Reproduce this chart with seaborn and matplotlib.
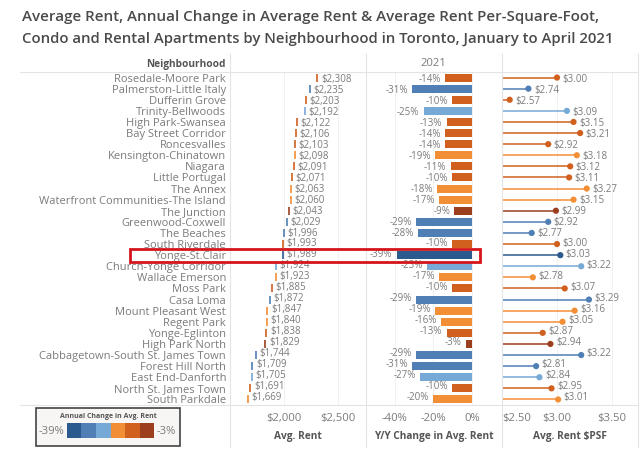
import matplotlib
matplotlib.use("Agg")
import matplotlib.pyplot as plt
from matplotlib.colors import ListedColormap
from matplotlib.lines import Line2D
from matplotlib.patches import Rectangle
import numpy as np
import pandas as pd
import seaborn as sns

neighbourhoods = ["Rosedale-Moore Park", "Palmerston-Little Italy", "Dufferin Grove", "Trinity-Bellwoods",
                  "High Park-Swansea", "Bay Street Corridor", "Roncesvalles", "Kensington-Chinatown", "Niagara",
                  "Little Portugal", "The Annex", "Waterfront Communities-The Island", "The Junction",
                  "Greenwood-Coxwell", "The Beaches", "South Riverdale", "Yonge-St.Clair", "Church-Yonge Corridor",
                  "Wallace Emerson", "Moss Park", "Casa Loma", "Mount Pleasant West", "Regent Park", "Yonge-Eglinton",
                  "High Park North", "Cabbagetown-South St. James Town", "Forest Hill North", "East End-Danforth",
                  "North St. James Town", "South Parkdale"]
avg_rent = [2308, 2235, 2203, 2192, 2122, 2106, 2103, 2098, 2091, 2071, 2063, 2060, 2043, 2029, 1996,
            1993, 1989, 1924, 1923, 1885, 1872, 1847, 1840, 1838, 1829, 1744, 1709, 1705, 1691, 1669]
yy_change = [-14, -31, -10, -25, -13, -14, -14, -19, -11, -10, -18, -17, -9, -29, -28,
             -10, -39, -23, -17, -10, -29, -19, -16, -13, -3, -29, -31, -27, -10, -20]
rent_psf = [3.00, 2.74, 2.57, 3.09, 3.15, 3.21, 2.92, 3.18, 3.12, 3.11, 3.27, 3.15, 2.99, 2.92, 2.77,
            3.00, 3.03, 3.22, 2.78, 3.07, 3.29, 3.16, 3.05, 2.87, 2.94, 3.22, 2.81, 2.84, 2.95, 3.01]
band_colors = ["#2b5a8e", "#4f7fb4", "#76a9d6", "#f28f36", "#d1601f", "#9b3f1f"]
band_edges = [-40, -33, -27.5, -21, -15, -9.5, 0]
bands = list(range(len(band_colors)))

W, H = 640, 463
GREY = "#7b7b7b"
FONT = "Open Sans"
sns.set_theme(style="white")
plt.rcParams["font.family"] = [FONT, "DejaVu Sans"]

df = pd.DataFrame({"hood": neighbourhoods, "rent": avg_rent, "change": yy_change, "psf": rent_psf})
df["band"] = pd.cut(df["change"], band_edges, labels=bands).astype(int)
palette = dict(zip(bands, band_colors))
row_colors = [palette[b] for b in df["band"]]

fig = plt.figure(figsize=(W / 100, H / 100), dpi=100, facecolor="white")


def fx(x):
    return x / W


def fy(y):
    return 1 - y / H


def panel(x0, x1, y0=72, y1=405):
    return fig.add_axes([fx(x0), fy(y1), (x1 - x0) / W, (y1 - y0) / H], facecolor="none")


def label_shift(i):
    # the value labels sit on a slightly tighter pitch than the rows
    return (14.5 - i) / 14.5 * -1.1


ax1 = panel(229.5, 366)
ax2 = panel(366, 502)
ax3 = panel(502, 638)

sns.scatterplot(data=df, x="rent", y="hood", hue="band", palette=palette, marker="|", s=34,
                linewidth=1.2, legend=False, ax=ax1)
sns.barplot(data=df, x="change", y="hood", hue="band", palette=palette, dodge=False, width=0.72,
            orient="h", legend=False, saturation=1, linewidth=0, ax=ax2)
ax3.hlines(df["hood"], 2.5, df["psf"], colors=row_colors, linewidth=1.1)
sns.scatterplot(data=df, x="psf", y="hood", hue="band", palette=palette, s=20, linewidth=0,
                legend=False, ax=ax3)

ax1.set_xlim(1498, 2755)
ax2.set_xlim(-54.9, 15.7)
ax3.set_xlim(2.5, 3.736)

for i, v in enumerate(df["rent"]):
    ax1.annotate(f"${v:,}", (v, i), xytext=(2.6, label_shift(i)), textcoords="offset points", va="center",
                 ha="left", fontsize=7.0, color=GREY)
for i, v in enumerate(df["change"]):
    ax2.annotate(f"{v}%", (v, i), xytext=(-3, label_shift(i)), textcoords="offset points", va="center",
                 ha="right", fontsize=7.0, color=GREY)
for i, v in enumerate(df["psf"]):
    ax3.annotate(f"${v:.2f}", (v, i), xytext=(4, label_shift(i)), textcoords="offset points", va="center",
                 ha="left", fontsize=7.0, color=GREY)

ax1.set_xticks([2000, 2500], ["$2,000", "$2,500"])
ax2.set_xticks([-40, -20, 0], ["-40%", "-20%", "0%"])
ax3.set_xticks([2.5, 3.0, 3.5], ["$2.50", "$3.00", "$3.50"])
ax3.get_xticklabels()[0].set_ha("left")

titles = ["Avg. Rent", "Y/Y Change in Avg. Rent", "Avg. Rent $PSF"]
for ax, t in zip((ax1, ax2, ax3), titles):
    ax.set_ylim(29.5, -0.5)
    ax.set_xlabel("")
    ax.set_ylabel("")
    ax.grid(True, axis="x", color="#f1f1f1", linewidth=0.7)
    ax.set_axisbelow(True)
    ax.tick_params(axis="x", length=0, pad=6, labelsize=8.1, labelcolor=GREY)
    ax.tick_params(axis="y", length=0)
    for s in ax.spines.values():
        s.set_visible(False)
    x0, x1 = ax.get_position().x0, ax.get_position().x1
    fig.text((x0 + x1) / 2, fy(437), t, ha="center", va="center", fontsize=7.3, fontweight="bold", color="#555555")

ax1.tick_params(axis="y", pad=2.5, labelsize=8.0, labelcolor=GREY)
ax2.set_yticks([])
ax3.set_yticks([])

# table rules
for x in (229.5, 366, 502, 638):
    fig.add_artist(Line2D([fx(x), fx(x)], [fy(53), fy(447)], color="#e4e4e4", linewidth=0.8))
for y in (72, 405):
    fig.add_artist(Line2D([fx(20), fx(638)], [fy(y), fy(y)], color="#e4e4e4", linewidth=0.8))

# headers and title
fig.text(fx(226), fy(64), "Neighbourhood", ha="right", va="center", fontsize=7.3, fontweight="bold", color="#555555")
fig.text(fx(433), fy(63), "2021", ha="center", va="center", fontsize=8.1, color=GREY)
fig.text(fx(22), fy(17.5), "Average Rent, Annual Change in Average Rent & Average Rent Per-Square-Foot,",
         ha="left", va="center", fontsize=10.9, fontweight="semibold", color="#4a4a4a")
fig.text(fx(22), fy(38.5), "Condo and Rental Apartments by Neighbourhood in Toronto, January to April 2021",
         ha="left", va="center", fontsize=10.7, fontweight="semibold", color="#4a4a4a")

# highlight box
fig.add_artist(Rectangle((fx(129.5), fy(262)), (480 - 129.5) / W, (262 - 248.5) / H, transform=fig.transFigure,
                         fill=False, edgecolor="#d5141c", linewidth=2.0, zorder=10))

# colour legend
fig.add_artist(Rectangle((fx(36), fy(446)), (179.5 - 36) / W, (446 - 408) / H, transform=fig.transFigure,
                         facecolor="#f8f6f4", edgecolor="#444444", linewidth=1.2, zorder=1))
cax = fig.add_axes([fx(66.7), fy(438), (154.3 - 66.7) / W, 15 / H], zorder=3)
sns.heatmap(np.array([bands]), cmap=ListedColormap(band_colors), cbar=False, xticklabels=False, yticklabels=False,
            ax=cax)
fig.text(fx(108), fy(417), "Annual Change in Avg. Rent", ha="center", va="center", fontsize=5, fontweight="bold",
         color="#555555", zorder=4)
fig.text(fx(64.5), fy(431), "-39%", ha="right", va="center", fontsize=8.1, color=GREY, zorder=4)
fig.text(fx(156.5), fy(431), "-3%", ha="left", va="center", fontsize=8.1, color=GREY, zorder=4)

fig.savefig("out.png", dpi=100)
